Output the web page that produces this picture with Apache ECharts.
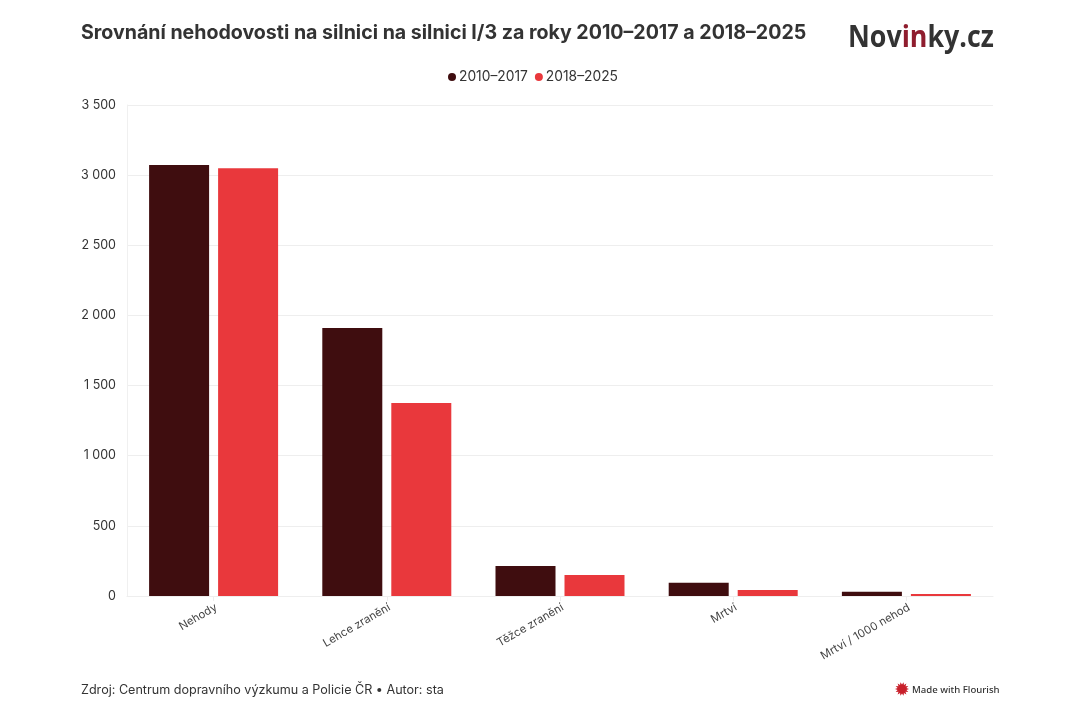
<!DOCTYPE html>
<html><head><meta charset="utf-8">
<style>html,body{margin:0;padding:0;background:#fff}#c{width:1080px;height:720px}</style>
<script src="https://cdn.jsdelivr.net/npm/echarts@6/dist/echarts.min.js"></script>
</head><body><div id="c"></div>
<script>
const categories = ["Nehody","Lehce zranění","Těžce zranění","Mrtví","Mrtví / 1000 nehod"];
const series2010 = [3072,1910,214,95,31];
const series2018 = [3050,1376,150,43,14];
const seriesNames = ["2010–2017","2018–2025"];
const chart = echarts.init(document.getElementById('c'), null, {renderer:'canvas'});
const font = 'Inter';
const fmt = v => String(v).replace(/\B(?=(\d{3})+$)/g,' ');
const burst = [];
for (let i=0;i<28;i++){const r=i%2?4.5:7,a=i*Math.PI/14;burst.push([902+r*Math.cos(a),689+r*Math.sin(a)]);}
chart.setOption({
  animation:false,
  backgroundColor:'#fff',
  title:{text:'Srovnání nehodovosti na silnici na silnici I/3 za roky 2010–2017 a 2018–2025',left:81,top:23,padding:0,
    textStyle:{fontFamily:font,fontSize:19.58,fontWeight:700,color:'#333'}},
  legend:{top:65,left:443,itemWidth:8,itemHeight:8,itemGap:7,icon:'circle',
    textStyle:{fontFamily:font,fontSize:13.8,color:'#333',padding:[0,0,0,-2]}},
  grid:{left:127,right:87,top:105,bottom:124,containLabel:false},
  xAxis:{type:'category',data:categories,
    axisLine:{show:true,lineStyle:{color:'#eeeeee',width:1}},
    axisTick:{show:true,length:5,alignWithLabel:true,lineStyle:{color:'#eeeeee'}},
    axisLabel:{rotate:30,interval:0,margin:12,padding:[0,-3,0,0],fontFamily:font,fontSize:11.3,color:'#444'}},
  yAxis:{type:'value',min:0,max:3500,interval:500,
    axisLine:{show:true,lineStyle:{color:'#f0f0f0'}},axisTick:{show:false},
    splitLine:{lineStyle:{color:'#eeeeee',width:1}},
    axisLabel:{margin:11,fontFamily:font,fontSize:12.5,color:'#333',formatter:fmt}},
  series:[
    {name:seriesNames[0],type:'bar',data:series2010,barWidth:60,barGap:'15%',itemStyle:{color:'#3f0d0f'}},
    {name:seriesNames[1],type:'bar',data:series2018,barWidth:60,itemStyle:{color:'#e9383c'}}
  ],
  graphic:[
    {type:'text',left:81,top:684,style:{text:'Zdroj: Centrum dopravního výzkumu a Policie ČR • Autor: sta',font:'12.58px Inter',fill:'#333'}},
    {type:'text',x:848,y:23,scaleX:0.865,style:{
      text:'{a|Nov}{b|in}{a|ky.cz}',
      rich:{a:{fontFamily:'Open Sans',fontSize:31,fontWeight:700,fill:'#333'},
            b:{fontFamily:'Open Sans',fontSize:31,fontWeight:700,fill:'#8f1d2e'}}}},
    {type:'polygon',shape:{points:burst},style:{fill:'#c8202b'}},
    {type:'text',left:912,top:685,style:{text:'Made with Flourish',font:'500 9.6px "Noto Sans"',fill:'#333'}}
  ]
});
</script></body></html>
